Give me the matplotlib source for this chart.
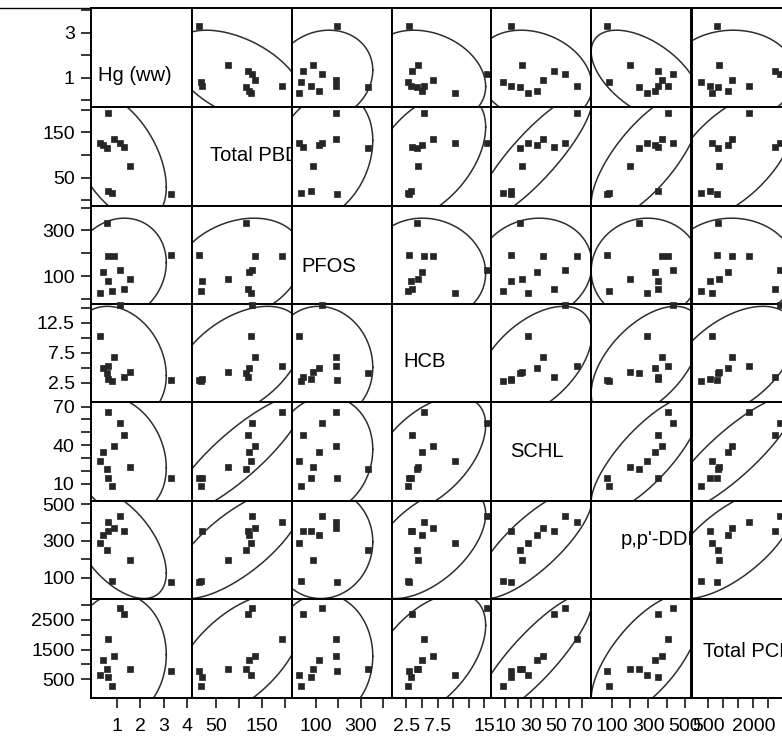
import numpy as np
import matplotlib
matplotlib.use("Agg")
import matplotlib.pyplot as plt
from matplotlib.lines import Line2D

plt.rcParams['font.family'] = ['Liberation Sans', 'DejaVu Sans']

# ---- data (one value per sample, 11 samples) ----
names = ["Hg (ww)", "Total PBDE", "PFOS", "HCB", "SCHL", "p,p'-DDE", "Total PCB"]
hg = [0.64, 0.31, 0.42, 0.58, 0.90, 1.15, 1.31, 1.56, 0.62, 0.82, 3.31]
pbde = [192, 126, 121, 115, 135, 127, 118, 75, 20, 17, 13]
pfos = [189, 27, 116, 334, 190, 128, 45, 89, 78, 36, 194]
hcb = [5.35, 10.3, 5.0, 4.2, 6.8, 15.4, 3.4, 4.35, 3.2, 2.8, 2.9]
schl = [66, 27.7, 34.8, 21.8, 39.4, 57, 48.2, 23.3, 14.4, 8.7, 14.4]
dde = [405, 291, 333, 250, 372, 436, 352, 198, 352, 82, 74]
pcb = [1860, 644, 1160, 840, 1290, 2894, 2700, 845, 575, 260, 785]
data = [hg, pbde, pfos, hcb, schl, dde, pcb]

# tick values and which of them carry labels
y_ticks = [[0, 1, 2, 3, 4], [0, 50, 100, 150, 200], [0, 100, 200, 300, 400],
           [2.5, 5, 7.5, 10, 12.5, 15], [10, 20, 30, 40, 50, 60, 70],
           [100, 200, 300, 400, 500], [500, 1000, 1500, 2000, 2500, 3000]]
y_labels = [[1, 3], [50, 150], [100, 300], [2.5, 7.5, 12.5], [10, 40, 70],
            [100, 300, 500], [500, 1500, 2500]]
x_ticks = [[1, 2, 3, 4], [50, 100, 150, 200], [100, 200, 300, 400],
           [2.5, 5, 7.5, 10, 12.5, 15], [10, 20, 30, 40, 50, 60, 70],
           [100, 200, 300, 400, 500], [500, 1000, 1500, 2000, 2500, 3000]]
x_labels = [[1, 2, 3, 4], [50, 150], [100, 300], [2.5, 7.5, 15],
            [10, 30, 50, 70], [100, 300, 500], [500, 2000]]

# ---- layout / style ----
xlims = [(-0.106, 4.191), (-2.8, 213.6), (-6.7, 438.2), (0.13, 16.14),
         (-0.7, 77.36), (-13.7, 535.9), (-49.7, 3261.6)]
ylims = [(-0.298, 4.085), (-11.7, 206.6), (-22.4, 409.6), (-0.717, 15.62),
         (-2.79, 73.51), (-15.3, 521.0), (-131.5, 3217.5)]
label_pos = [(0.072, 0.312), (0.18, 0.511), (0.10, 0.379), (0.116, 0.418),
             (0.187, 0.495), (0.294, 0.605), (0.118, 0.473)]

W, H = 782, 736
col_edges = [90.7, 191.7, 291.7, 391.7, 491.3, 591.3, 691.5, 791.5]
row_edges = [8.3, 106.7, 205.5, 304, 402, 500.5, 598.7, 698]

ink = '#262626'


def fmt(v):
    if float(v).is_integer():
        return str(int(v))
    return str(v)


def ellipse(x, y, n=300, chi2=5.991):
    x = np.asarray(x, float)
    y = np.asarray(y, float)
    m = np.array([x.mean(), y.mean()])
    c = np.cov(x, y)
    L = np.linalg.cholesky(c)
    t = np.linspace(0, 2 * np.pi, n)
    pts = m[:, None] + np.sqrt(chi2) * (L @ np.vstack([np.cos(t), np.sin(t)]))
    return pts[0], pts[1]


fig = plt.figure(figsize=(W / 100, H / 100), dpi=100)
fig.patch.set_facecolor('white')

for i in range(7):
    for j in range(7):
        l, r = col_edges[j], col_edges[j + 1]
        t, b = row_edges[i], row_edges[i + 1]
        ax = fig.add_axes([l / W, 1 - b / H, (r - l) / W, (b - t) / H])
        ax.set_xlim(*xlims[j])
        ax.set_ylim(*ylims[i])
        for s in ax.spines.values():
            s.set_linewidth(1.4)
            s.set_color('black')
        ax.tick_params(direction='out', length=7.5, width=1.1, labelsize=14,
                       colors='black')
        ax.tick_params(axis='y', pad=4)
        ax.tick_params(axis='x', pad=7)
        if j == 0:
            ax.set_yticks(y_ticks[i])
            ax.set_yticklabels([fmt(v) if v in y_labels[i] else '' for v in y_ticks[i]])
        else:
            ax.set_yticks([])
        if i == 6:
            ax.set_xticks(x_ticks[j])
            ax.set_xticklabels([fmt(v) if v in x_labels[j] else '' for v in x_ticks[j]])
        else:
            ax.set_xticks([])

        if i == j:
            ax.text(label_pos[i][0], label_pos[i][1], names[i], transform=ax.transAxes,
                    ha='left', va='center', fontsize=14.5, color='black', clip_on=True)
            continue

        ex, ey = ellipse(data[j], data[i])
        ax.plot(ex, ey, color='#2e2e2e', lw=1.1)
        ax.plot(data[j], data[i], 's', ms=4.3, color=ink, mec=ink, mew=0.5,
                clip_on=False, zorder=5)

fig.add_artist(Line2D([0, 91 / W], [1 - 7.5 / H, 1 - 7.5 / H], color='black', lw=1.0))

fig.savefig('out.png', dpi=100)
